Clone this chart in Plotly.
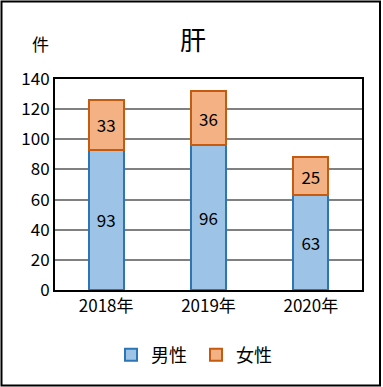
import plotly.graph_objects as go

categories = ["2018年", "2019年", "2020年"]
male = [93, 96, 63]
female = [33, 36, 25]
series_names = ["男性", "女性"]
title_text = "肝"
y_unit = "件"

font_family = "Noto Sans CJK JP, Noto Sans, sans-serif"
W, H = 383, 387
L, R, T, B = 55, 21, 79, 97

fig = go.Figure()
fig.add_trace(go.Bar(
    x=categories, y=male, name=series_names[0],
    marker=dict(color="#9DC3E6", line=dict(color="#2E75B6", width=2)),
    text=male, textposition="inside", insidetextanchor="middle",
    textfont=dict(size=17, color="black"), width=0.34,
))
fig.add_trace(go.Bar(
    x=categories, y=female, name=series_names[1],
    marker=dict(color="#F4B183", line=dict(color="#C55A11", width=2)),
    text=female, textposition="inside", insidetextanchor="middle",
    textfont=dict(size=17, color="black"), width=0.34,
))

fig.update_layout(
    barmode="stack",
    width=W, height=H,
    margin=dict(l=L, r=R, t=T, b=B, autoexpand=False),
    paper_bgcolor="white", plot_bgcolor="white",
    font=dict(family=font_family, color="black", size=16),
    showlegend=True,
    legend=dict(orientation="h", x=196 / W, xref="container", xanchor="center",
                y=1 - 355 / H, yref="container", yanchor="middle",
                font=dict(size=18), traceorder="normal", itemwidth=30,
                entrywidth=40, entrywidthmode="pixels"),
    uniformtext=dict(minsize=10, mode="show"),
    annotations=[
        dict(text=title_text, xref="paper", yref="paper", showarrow=False,
             x=(193 - L) / 307, y=(290 - 38) / 211, xanchor="center", yanchor="middle",
             font=dict(size=26)),
        dict(text=y_unit, xref="paper", yref="paper", showarrow=False,
             x=(40 - L) / 307, y=(290 - 44) / 211, xanchor="center", yanchor="middle",
             font=dict(size=17)),
    ],
)

fig.update_xaxes(showline=True, linecolor="black", linewidth=2, mirror=True,
                 ticks="", tickfont=dict(size=17), showgrid=False, automargin=False)
fig.update_yaxes(range=[0, 140], dtick=20, showline=True, linecolor="black", linewidth=2,
                 mirror=True, showgrid=True, gridcolor="#808080", gridwidth=2,
                 ticks="", tickfont=dict(size=17), zeroline=False, automargin=False)

fig.add_shape(type="rect", xref="paper", yref="paper",
              x0=(1.5 - L) / 307, x1=(380 - L) / 307,
              y0=(290 - 385.5) / 211, y1=(290 - 1.5) / 211,
              line=dict(color="black", width=2), fillcolor="rgba(0,0,0,0)", layer="below")

fig.write_html("out.html", post_script="document.body.style.margin='0';",
               config={"displayModeBar": False})
